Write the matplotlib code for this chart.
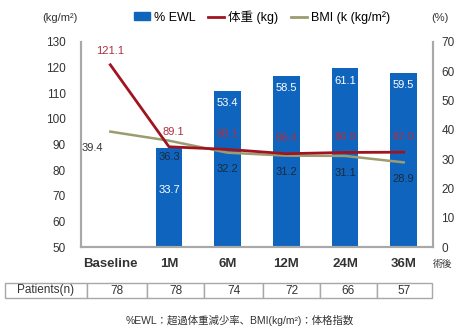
import numpy as np
import matplotlib
matplotlib.use("Agg")
import matplotlib.pyplot as plt
from matplotlib.patches import Patch
from matplotlib.lines import Line2D

plt.rcParams['font.family'] = ['Liberation Sans', 'Noto Sans CJK JP', 'DejaVu Sans']

categories = ['Baseline', '1M', '6M', '12M', '24M', '36M']
ewl = [np.nan, 33.7, 53.4, 58.5, 61.1, 59.5]
weight = [121.1, 89.1, 88.1, 86.4, 86.9, 87.0]
bmi = [39.4, 36.3, 32.2, 31.2, 31.1, 28.9]
patients = ['78', '78', '74', '72', '66', '57']

BLUE = '#0f65be'
RED = '#a01420'
OLIVE = '#9c9c70'
GRAY = '#a8a8a8'
TXT = '#333333'

fig = plt.figure(figsize=(4.56, 3.28), dpi=100)
ax = fig.add_axes([81/456, 1-247/328, (433-81)/456, (247-42)/328])
x = np.arange(len(categories))

# bars and BMI on % scale (right)
ax.bar(x, ewl, width=0.45, color=BLUE, zorder=2)
ax.plot(x, bmi, color=OLIVE, lw=1.8, zorder=3)
ax.set_ylim(0, 70)
ax.set_xlim(-0.5, len(categories) - 0.5)
ax.set_yticks(np.arange(0, 71, 10))
ax.set_xticks(x)
ax.set_xticklabels(categories, fontsize=9.5, fontweight='bold', color=TXT)
ax.tick_params(axis='x', length=0, pad=8)

# weight on left scale
ax2 = ax.twinx()
ax2.plot(x, weight, color=RED, lw=2.0, zorder=4)
ax2.set_ylim(50, 130)
ax2.set_yticks(np.arange(50, 131, 10))
ax2.yaxis.tick_left()
ax2.yaxis.set_label_position('left')
ax2.tick_params(axis='y', length=0, pad=11, labelsize=8.5, labelcolor=TXT)

ax.yaxis.tick_right()
ax.tick_params(axis='y', length=0, pad=6, labelsize=8.5, labelcolor=TXT)

for a in (ax, ax2):
    a.spines['top'].set_visible(False)
    for s in ('left', 'right', 'bottom'):
        a.spines[s].set_color(GRAY)
        a.spines[s].set_linewidth(1.5)

# EWL labels (white inside bars)
for i, v in enumerate(ewl):
    if np.isnan(v):
        continue
    off = -30 if i == 1 else -9
    ax.annotate(f'{v:.1f}', (x[i], v), xytext=(0, off), textcoords='offset points',
                ha='center', va='center', color='white', fontsize=8)

# BMI labels
for i, v in enumerate(bmi):
    if i == 0:
        ax.annotate(f'{v:.1f}', (x[i], v), xytext=(-13, -12), textcoords='offset points',
                    ha='center', va='center', color=TXT, fontsize=8)
    else:
        ax.annotate(f'{v:.1f}', (x[i], v), xytext=(0, -12), textcoords='offset points',
                    ha='center', va='center', color='#1a2a40', fontsize=8)

# weight labels
for i, v in enumerate(weight):
    dx = 3 if i == 1 else 0
    dy = 10 if i == 0 else 11
    ax2.annotate(f'{v:.1f}', (x[i], v), xytext=(dx, dy), textcoords='offset points',
                 ha='center', va='center', color='#b03040', fontsize=8)

# unit labels
fig.text(60/456, 1-18/328, '(kg/m²)', ha='center', va='center', fontsize=8, color=TXT)
fig.text(440/456, 1-18/328, '(%)', ha='center', va='center', fontsize=8, color=TXT)
fig.text(443/456, 1-264/328, '術後', ha='center', va='center', fontsize=7, color=TXT)

# legend
handles = [Patch(color=BLUE), Line2D([], [], color=RED, lw=2), Line2D([], [], color=OLIVE, lw=2)]
labels = ['% EWL', '体重 (kg)', 'BMI (k (kg/m²)']
fig.legend(handles, labels, loc='center', bbox_to_anchor=(262/456, 1-17/328), ncol=3,
           frameon=False, fontsize=9, handlelength=1.3, handleheight=0.6,
           handletextpad=0.3, columnspacing=1.0)

# patients table
col_w = [82, 60, 57, 59, 57, 57, 55]
tbl = ax.table(cellText=[['Patients(n)'] + patients], colWidths=col_w, cellLoc='center',
               bbox=[(5-81)/352, (247-298)/205, (432-5)/352, 15/205])
tbl.auto_set_font_size(False)
tbl.set_fontsize(8.5)
for (r, c), cell in tbl.get_celld().items():
    cell.set_edgecolor(GRAY)
    cell.set_linewidth(1.0)
    cell.get_text().set_color(TXT)

fig.text(240/456, 1-320/328, '%EWL：超過体重減少率、BMI(kg/m²)：体格指数',
         ha='center', va='center', fontsize=7.5, color=TXT)

fig.savefig('out.png', dpi=100)
